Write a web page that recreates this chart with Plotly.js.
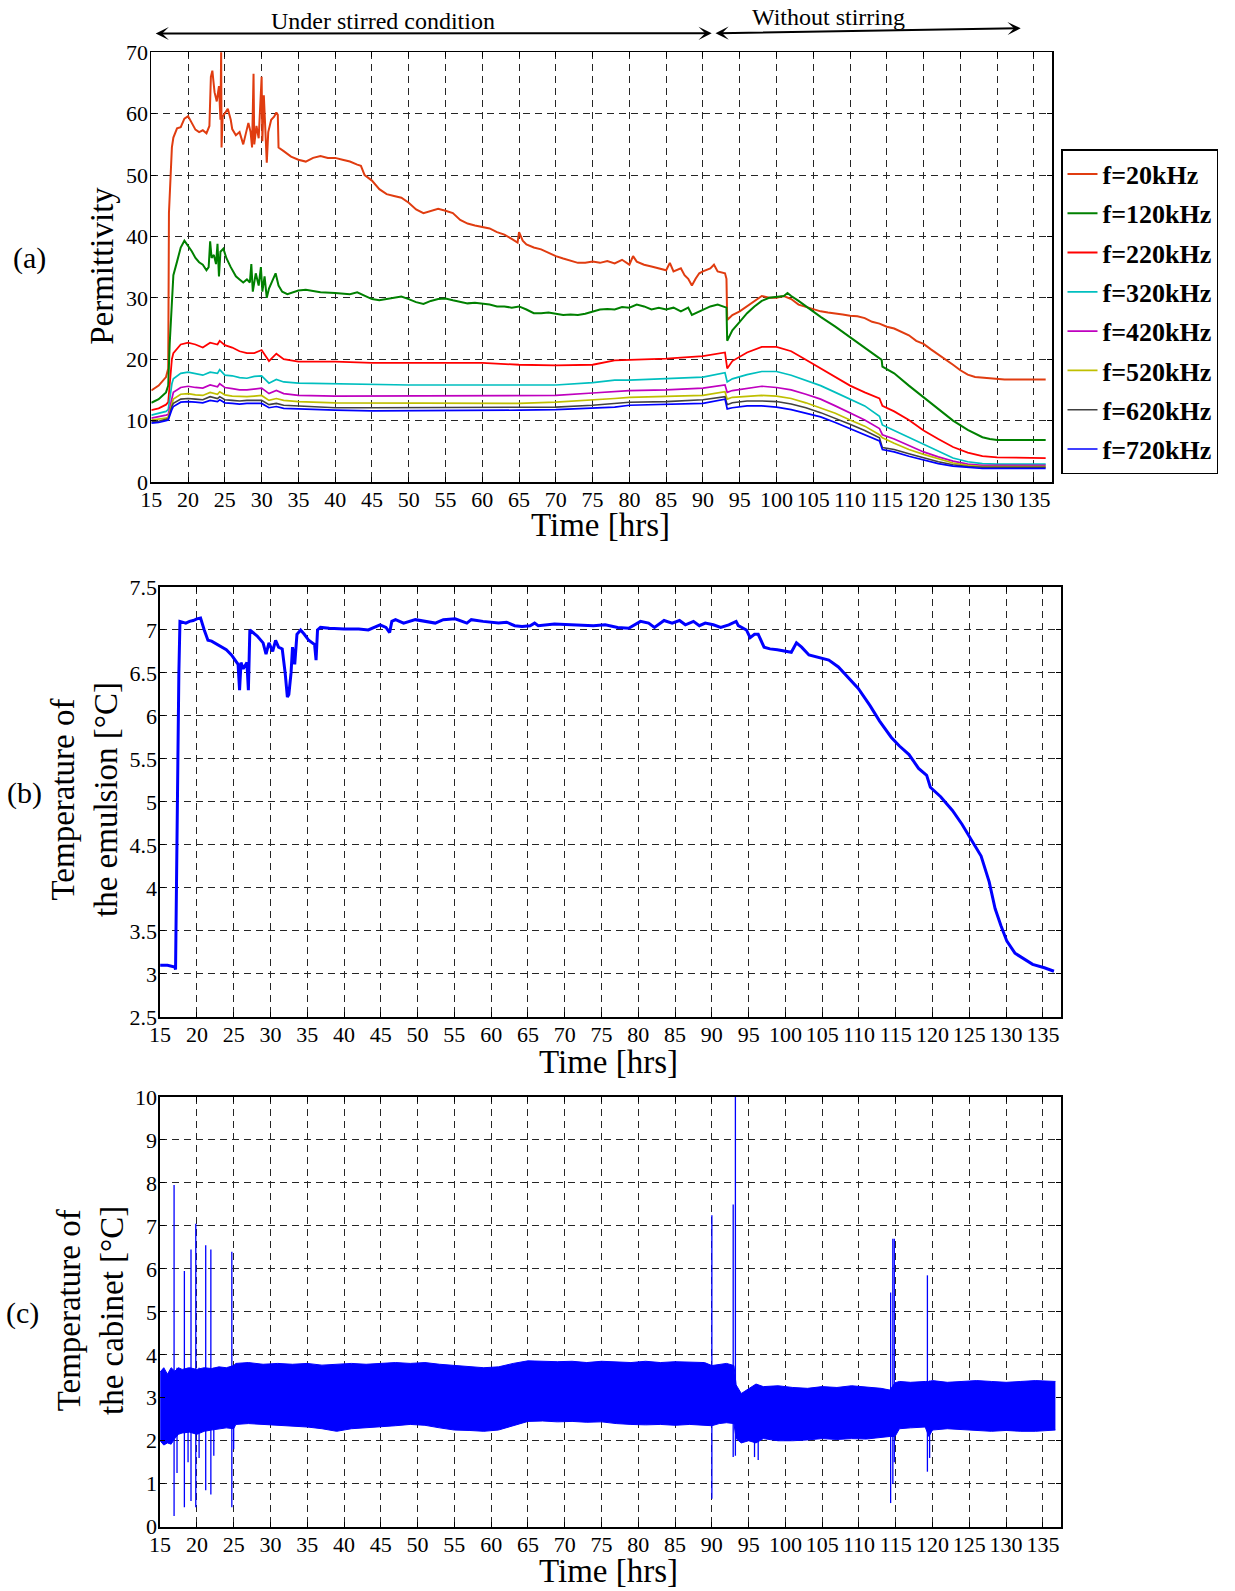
<!DOCTYPE html>
<html>
<head>
<meta charset="utf-8">
<script src="https://cdn.plot.ly/plotly-3.0.1.min.js"></script>
<style>
html,body{margin:0;padding:0;background:#fff;}
#chart{width:1235px;height:1591px;}
</style>
</head>
<body>
<div id="chart"></div>
<script>
// ---------------- DATA ----------------
// Panel (a): permittivity
const freqLabels = ['f=20kHz','f=120kHz','f=220kHz','f=320kHz','f=420kHz','f=520kHz','f=620kHz','f=720kHz'];

const time20 = [15,16,17,17.3,17.4,17.6,17.8,18,18.5,19,19.5,20,20.5,21,21.5,22,22.5,22.9,23.1,23.3,23.6,23.9,24.2,24.4,24.5,24.55,24.7,25,25.4,25.8,26,26.5,27,27.5,27.8,28.2,28.5,28.7,28.9,29,29.3,29.6,30,30.1,30.3,30.5,30.7,30.9,31.3,31.7,32,32.2,32.3,33,34,35,36,37,38,39,40,41,42,43,43.5,44,45,46,47,48,49,50,51,52,53,54,55,56,57,58,59,60,61,62,63,64,64.8,65,65.5,66,67,68,69,70,71,72,73,74,75,76,77,78,79,80,80.5,81,82,83,84,85,85.5,86,87,87.5,88,88.5,89,89.5,90,91,91.5,92,93,93.2,93.3,94,95,96,97,98,99,100,101,102,103,104,105,106,107,108,109,110,111,112,113,114,115,116,117,118,119,120,121,122,123,124,125,126,127,128,129,130,131,136.6];
const perm20 = [14.9,15.7,17.1,18.5,43.8,50.5,54.5,56.1,57.6,57.8,59.2,59.6,58.4,57.4,57.0,57.3,56.8,58.0,66.0,67.0,63.5,62.0,64.5,59.0,70.5,54.5,59.5,60.0,60.8,59.0,57.5,56.5,57.0,55.0,56.5,58.5,57.0,54.5,66.5,55.0,58.0,56.0,66.0,55.5,63.0,58.0,52.0,57.0,59.0,59.5,60.2,59.8,54.5,53.9,53.0,52.5,52.2,52.8,53.1,52.8,52.8,52.5,52.2,51.7,51.5,50.0,49.1,47.7,46.9,46.6,46.3,45.5,44.4,43.8,44.1,44.5,44.2,43.8,42.7,42.1,41.8,41.5,41.3,40.7,40.3,39.6,39.0,40.7,39.3,38.7,38.2,37.9,37.3,36.8,36.4,36.0,35.7,35.7,35.9,35.7,36.0,35.6,36.2,35.4,36.8,35.9,35.4,35.1,34.8,34.5,35.7,34.3,34.8,33.7,33.1,32.0,33.1,34.0,34.3,34.8,35.4,34.3,34.0,33.1,26.4,27.2,27.8,28.6,29.5,30.3,30.0,30.0,30.3,29.8,28.9,28.5,28.1,27.8,27.6,27.5,27.3,27.1,27.0,26.7,26.1,25.8,25.3,25.0,24.4,23.9,23.0,22.5,21.6,20.8,19.9,19.1,18.2,17.5,17.1,17.0,16.8,16.8,16.7,16.7];

const time120 = [15,16,17,17.3,17.5,17.8,18,18.5,19,19.5,20,20.5,21,21.5,22,22.5,22.8,23.0,23.2,23.5,23.8,24.0,24.2,24.4,24.8,25.2,25.8,26.5,27.0,27.5,28.0,28.4,28.6,28.8,29.2,29.6,29.9,30.1,30.4,30.7,31.0,31.5,31.9,32.3,32.8,33.5,34,35,36,38,40,42,43,44,45,46,47,48,49,50,51,52,53,54,55,56,57,58,59,60,61,62,63,64,65,66,67,68,69,70,71,72,73,74,75,76,77,78,79,80,81,82,83,84,85,86,87,88,88.5,89,90,91,92,93,93.2,93.3,94,95,96,97,98,99,100,101,101.5,102,103,104,105,106,108,110,112,114,114.3,114.4,116,118,120,122,124,126,127,128,129,130,136.6];
const perm120 = [12.9,13.5,14.6,15.7,22.5,29.8,33.7,35.9,38.2,39.3,38.5,37.6,36.5,35.8,35.4,34.5,35.0,39.2,36.5,37.0,35.5,38.8,33.5,37.5,38.0,36.5,35.0,33.5,33.0,32.5,33.0,32.5,35.5,31.0,34.0,32.0,35.0,31.0,33.5,30.0,31.5,33.0,34.0,32.0,31.0,30.6,30.8,31.2,31.3,30.9,30.8,30.6,30.9,30.3,29.8,29.6,29.8,30.0,30.2,29.8,29.3,29.0,29.5,29.8,29.9,29.6,29.3,29.1,29.2,29.1,28.9,28.6,28.6,28.4,28.6,28.1,27.5,27.5,27.6,27.4,27.2,27.3,27.2,27.4,27.8,28.1,28.2,28.1,28.5,28.4,28.9,28.6,28.1,28.4,28.1,28.4,27.8,28.4,27.2,27.5,28.1,28.6,28.9,28.5,28.4,23.0,24.7,26.1,27.5,28.6,29.5,30.0,30.2,30.3,30.8,30.3,29.5,28.6,27.8,26.9,25.3,23.6,21.9,20.2,19.9,18.8,17.7,15.7,13.8,11.8,10.0,8.5,7.9,7.3,7.0,6.85,6.85];

const timeLow = [15,16,17,17.3,17.8,18,19,20,21,22,23,24,24.3,25,26,27,28,29,30,31,32,33,35,40,45,50,55,60,65,70,75,78,80,85,90,93,93.3,94,96,98,100,102,104,106,108,110,112,114,114.4,116,118,120,122,124,126,128,130,136.6];
const perm220 = [11.7,12.0,12.6,13.0,20.0,21.0,22.4,22.7,22.4,21.9,22.7,22.4,23.0,22.3,21.9,21.3,21.0,21.0,21.5,19.7,20.9,20.0,19.6,19.6,19.4,19.4,19.5,19.4,19.1,19.0,19.1,19.8,19.9,20.1,20.5,21.1,18.5,19.7,21.1,22.0,22.0,21.3,19.9,18.5,17.1,15.7,14.6,13.6,12.4,11.5,10.1,8.4,7.0,5.7,4.8,4.2,4.0,3.9];
const perm320 = [10.9,11.2,11.5,11.8,16.0,16.8,17.7,17.9,17.7,17.4,17.9,17.7,18.3,17.4,17.3,17.0,16.9,17.2,17.3,16.1,16.7,16.3,16.1,16.0,15.8,15.8,15.8,15.8,15.7,15.8,16.2,16.6,16.6,16.8,17.1,17.8,16.3,16.8,17.5,18.0,18.0,17.4,16.6,15.7,14.6,13.5,12.4,10.7,9.3,8.4,7.3,6.2,5.1,3.9,3.3,3.0,2.9,2.9];
const perm420 = [10.4,10.6,10.9,11.0,14.0,14.6,15.4,15.6,15.4,15.3,15.8,15.5,16.0,15.4,15.2,15.0,15.0,15.1,15.3,14.4,14.9,14.4,14.1,14.0,14.0,14.0,14.0,14.0,14.0,14.1,14.5,14.8,14.9,15.0,15.3,15.8,14.6,14.9,15.2,15.6,15.4,15.0,14.3,13.5,12.4,11.2,10.1,8.7,7.7,7.0,5.9,4.9,4.1,3.4,2.9,2.7,2.7,2.7];
const perm520 = [10.1,10.2,10.4,10.6,13.0,13.5,14.3,14.4,14.2,14.1,14.6,14.3,14.7,14.2,14.0,13.9,13.9,14.0,14.1,13.3,13.6,13.3,13.1,12.9,12.9,12.9,12.9,12.9,12.8,13.0,13.3,13.6,13.8,13.9,14.1,14.7,13.5,13.8,14.0,14.1,14.0,13.6,12.9,12.1,11.2,10.1,9.1,7.7,7.2,6.3,5.3,4.5,3.8,3.1,2.7,2.5,2.5,2.5];
const perm620 = [9.8,9.9,10.2,10.3,12.3,12.8,13.5,13.6,13.5,13.4,13.9,13.6,13.9,13.4,13.3,13.2,13.3,13.3,13.3,12.6,12.8,12.5,12.4,12.1,12.1,12.1,12.1,12.1,12.1,12.2,12.5,12.8,13.0,13.1,13.4,13.9,12.6,12.9,13.2,13.2,13.1,12.7,12.1,11.3,10.4,9.4,8.4,7.2,5.6,5.3,4.6,3.9,3.3,2.8,2.5,2.4,2.4,2.4];
const perm720 = [9.6,9.7,10.0,10.1,11.8,12.3,13.0,13.1,13.0,12.9,13.3,13.1,13.4,12.9,12.8,12.7,12.8,12.8,12.8,12.1,12.3,12.0,11.9,11.7,11.6,11.6,11.6,11.6,11.7,11.8,12.0,12.2,12.5,12.6,12.8,13.5,11.9,12.1,12.4,12.4,12.2,11.8,11.2,10.6,9.7,8.7,7.7,6.7,5.3,4.9,4.2,3.6,3.0,2.6,2.4,2.2,2.2,2.2];

// Panel (b): emulsion temperature
const tempTime = [15,16,17,17.1,17.25,17.4,17.55,17.7,18.5,19,19.5,20,20.5,21,21.5,22,23,24,24.7,25.2,25.6,25.8,26.0,26.3,26.8,27.0,27.2,28.2,29,29.4,29.8,30.3,30.7,31.1,31.6,32,32.3,32.5,32.8,33,33.3,33.6,34.1,34.6,35.2,36,36.2,36.4,36.8,38,40,42,43.3,44.9,45.7,46.2,46.5,47,48.1,49.7,51.3,52.4,53.5,55.1,56.7,57.3,58.9,61,62.1,63.2,64.2,65.3,65.9,66.4,68.6,71.2,73.9,75.5,77.2,78.7,80.3,81.4,82.2,83.5,84.6,85.6,86.4,87.5,88.3,89.1,90.2,91.2,92.3,93.3,93.6,94.7,95.2,95.8,96.3,97.1,97.9,98.9,100,100.8,101.5,102.2,103.2,104.8,105.9,107.2,108.5,109.9,111.5,112.8,114.4,115.5,116.8,118.1,119.2,119.7,121.1,122.7,124,125.3,126.6,127.7,128.5,129.3,130.1,131.2,132.5,133.6,135.2,136.5];
const tempEmulsion = [3.10,3.10,3.08,3.05,4.20,5.50,6.50,7.10,7.08,7.10,7.11,7.13,7.14,7.00,6.88,6.87,6.82,6.77,6.71,6.65,6.60,6.30,6.62,6.55,6.62,6.30,7.00,6.93,6.85,6.72,6.85,6.75,6.88,6.80,6.78,6.50,6.22,6.25,6.50,6.80,6.60,6.95,7.00,6.95,6.88,6.83,6.65,7.00,7.03,7.02,7.01,7.01,7.00,7.06,7.03,6.97,7.10,7.12,7.08,7.12,7.10,7.08,7.12,7.13,7.08,7.12,7.10,7.08,7.09,7.05,7.04,7.05,7.08,7.05,7.07,7.06,7.05,7.06,7.03,7.02,7.10,7.08,7.03,7.11,7.08,7.11,7.06,7.10,7.05,7.08,7.06,7.03,7.06,7.10,7.05,7.00,6.91,6.95,6.95,6.80,6.78,6.77,6.75,6.74,6.85,6.80,6.71,6.67,6.65,6.57,6.45,6.32,6.12,5.94,5.75,5.65,5.55,5.39,5.31,5.17,5.06,4.90,4.74,4.56,4.37,4.07,3.76,3.56,3.38,3.24,3.17,3.11,3.07,3.03];

// Panel (c): cabinet temperature (fluctuation band envelope + spikes)
const cabTime  = [15,15.5,16,16.5,17,17.5,18,19,20,21,22,23,24,25,25.3,27,29,31,33,35,37,39,41,43,45,47,49,51,53,55,57,59,61,63,65,67,69,71,73,75,77,79,81,83,85,87,89,90,91,92,93,93.3,94,95,96,97,99,101,103,105,107,109,111,113,114.2,114.9,115.5,117,119,119.5,120,122,124,126,128,130,132,134,136.7];
const cabUpper = [3.60,3.70,3.55,3.70,3.62,3.70,3.66,3.70,3.66,3.70,3.68,3.72,3.70,3.75,3.80,3.82,3.78,3.80,3.78,3.80,3.76,3.78,3.80,3.78,3.80,3.82,3.80,3.82,3.78,3.75,3.72,3.70,3.72,3.80,3.86,3.85,3.84,3.85,3.82,3.85,3.84,3.82,3.85,3.82,3.84,3.83,3.82,3.75,3.78,3.80,3.75,3.30,3.10,3.22,3.32,3.26,3.28,3.24,3.22,3.26,3.24,3.28,3.25,3.22,3.18,3.35,3.38,3.36,3.38,3.38,3.40,3.36,3.38,3.40,3.38,3.36,3.38,3.40,3.38];
const cabLower = [2.00,1.90,1.95,1.92,2.05,2.15,2.18,2.20,2.15,2.22,2.25,2.28,2.30,2.28,2.38,2.40,2.38,2.37,2.35,2.32,2.28,2.22,2.28,2.30,2.33,2.35,2.38,2.36,2.30,2.25,2.24,2.22,2.25,2.35,2.45,2.46,2.44,2.45,2.43,2.44,2.40,2.38,2.37,2.38,2.36,2.38,2.37,2.35,2.40,2.42,2.40,2.05,1.95,2.00,1.95,2.05,2.00,2.00,2.02,2.05,2.03,2.05,2.04,2.08,2.10,2.10,2.28,2.30,2.32,2.10,2.25,2.28,2.26,2.25,2.22,2.24,2.22,2.22,2.25];
const spikeTime = [16.9,17.3,18.3,18.8,19.2,19.85,20.3,21.2,21.9,22.3,24.75,25.0,90.0,92.9,93.2,95.8,96.3,114.3,114.6,114.8,119.3,119.6];
const spikeHigh = [7.95,3.70,5.95,3.70,6.45,7.05,3.70,6.55,6.45,3.70,6.40,3.70,7.25,7.50,10.0,3.00,3.20,5.45,6.70,6.70,5.85,3.40];
const spikeLow  = [0.25,1.25,0.45,1.50,0.60,0.45,1.60,0.85,0.75,1.65,0.45,1.80,0.65,1.62,1.65,1.62,1.55,0.55,1.00,1.50,1.28,1.60];

const xTickVals = [15,20,25,30,35,40,45,50,55,60,65,70,75,80,85,90,95,100,105,110,115,120,125,130,135];
const tempTickVals = [2.5,3,3.5,4,4.5,5,5.5,6,6.5,7,7.5];
const tempTickText = ['2.5','3','3.5','4','4.5','5','5.5','6','6.5','7','7.5'];

// ---------------- STYLE / LAYOUT ----------------
const W = 1235, H = 1591;
const FONT = 'Liberation Serif';
const px = v => v / W;
const py = v => 1 - v / H;

const permColors = ['#e03c10','#008000','#ff0000','#00bfbf','#bf00bf','#bfbf00','#404040','#0000ff'];
const permWidths = [2,2,1.8,1.7,1.7,1.7,1.6,1.7];
const permTimes = [time20,time120,timeLow,timeLow,timeLow,timeLow,timeLow,timeLow];
const permValues = [perm20,perm120,perm220,perm320,perm420,perm520,perm620,perm720];

const traces = [];
freqLabels.forEach((name,i) => {
  traces.push({
    type:'scatter', mode:'lines', name:name,
    x: permTimes[i], y: permValues[i],
    line:{color:permColors[i], width:permWidths[i]},
    xaxis:'x', yaxis:'y', legendgroup:'g'+i
  });
});

traces.push({
  type:'scatter', mode:'lines', x:tempTime, y:tempEmulsion,
  line:{color:'#0000ff', width:3}, xaxis:'x2', yaxis:'y2', showlegend:false
});

traces.push({
  type:'scatter', mode:'lines', x:cabTime, y:cabLower,
  line:{color:'#0000ff', width:1}, xaxis:'x3', yaxis:'y3', showlegend:false
});
traces.push({
  type:'scatter', mode:'lines', x:cabTime, y:cabUpper, fill:'tonexty', fillcolor:'#0000ff',
  line:{color:'#0000ff', width:1}, xaxis:'x3', yaxis:'y3', showlegend:false
});
const sx = [], sy = [];
spikeTime.forEach((t,i) => { sx.push(t,t,null); sy.push(spikeLow[i],spikeHigh[i],null); });
traces.push({
  type:'scatter', mode:'lines', x:sx, y:sy, connectgaps:false,
  line:{color:'#0000ff', width:1.3}, xaxis:'x3', yaxis:'y3', showlegend:false
});

function makeAxis(extra){
  return Object.assign({
    showline:true, linecolor:'#000', linewidth:1.8, mirror:'ticks',
    ticks:'inside', ticklen:5, tickwidth:1, tickcolor:'#000',
    showgrid:true, gridcolor:'#262626', gridwidth:1, griddash:'7px,5px',
    zeroline:false, tickangle:0, fixedrange:true, ticklabelstandoff:-3,
    tickfont:{family:FONT, size:22, color:'#000'}
  }, extra);
}
const domA = [px(151.3), px(1052.3)];
const domBC = [px(160.1), px(1061.3)];
const xExtra = {range:[15,137.5], tickmode:'array', tickvals:xTickVals};

function note(x, y, text, size, extra){
  return Object.assign({xref:'paper', yref:'paper', x:px(x), y:py(y), text:text, showarrow:false,
    xanchor:'center', yanchor:'middle', font:{family:FONT, size:size, color:'#000'}}, extra || {});
}
function arrow(x0, y0, x1, y1){
  return {xref:'paper', yref:'paper', x:px(x1), y:py(y1), axref:'paper', ayref:'paper', ax:px(x0), ay:py(y0),
    text:'', showarrow:true, arrowside:'end+start', arrowhead:3, startarrowhead:3,
    arrowsize:1.1, startarrowsize:1.1, arrowwidth:2, arrowcolor:'#000', standoff:0, startstandoff:0};
}

const layout = {
  width:W, height:H,
  margin:{l:0,r:0,t:0,b:0},
  paper_bgcolor:'#fff', plot_bgcolor:'#fff',
  font:{family:FONT, color:'#000'},
  showlegend:true,
  xaxis:  makeAxis(Object.assign({domain:domA, anchor:'y'}, xExtra)),
  yaxis:  makeAxis({domain:[py(482), py(52.3)], range:[0,70], dtick:10, tick0:0, anchor:'x'}),
  xaxis2: makeAxis(Object.assign({domain:domBC, anchor:'y2'}, xExtra)),
  yaxis2: makeAxis({domain:[py(1016.8), py(587)], range:[2.5,7.5], tickmode:'array', tickvals:tempTickVals, ticktext:tempTickText, anchor:'x2'}),
  xaxis3: makeAxis(Object.assign({domain:domBC, anchor:'y3'}, xExtra)),
  yaxis3: makeAxis({domain:[py(1526.7), py(1097)], range:[0,10], dtick:1, tick0:0, anchor:'x3'}),
  legend:{
    x:px(1061), y:py(149), xanchor:'left', yanchor:'top',
    bgcolor:'#fff', bordercolor:'#000', borderwidth:1.5,
    font:{family:FONT, size:26, color:'#000', weight:'bold'},
    tracegroupgap:2.5, itemwidth:30
  },
  annotations:[
    note(382.6, 21.5, 'Under stirred condition', 24),
    note(828.9, 17.5, 'Without stirring', 24),
    arrow(154.2, 33.5, 711.7, 33.3),
    arrow(714, 33.3, 1020.7, 28.3),
    note(29.3, 258, '(a)', 30),
    note(24, 793, '(b)', 30),
    note(22, 1313, '(c)', 30),
    note(101.8, 266, 'Permittivity', 33, {textangle:-90}),
    note(84, 800, 'Temperature of<br>the emulsion [°C]', 33, {textangle:-90}),
    note(90, 1310, 'Temperature of<br>the cabinet [°C]', 33, {textangle:-90}),
    note(600, 525, 'Time [hrs]', 33),
    note(608, 1061.5, 'Time [hrs]', 33),
    note(608, 1571, 'Time [hrs]', 33)
  ]
};

Plotly.newPlot('chart', traces, layout, {displayModeBar:false, staticPlot:true});
</script>
</body>
</html>
